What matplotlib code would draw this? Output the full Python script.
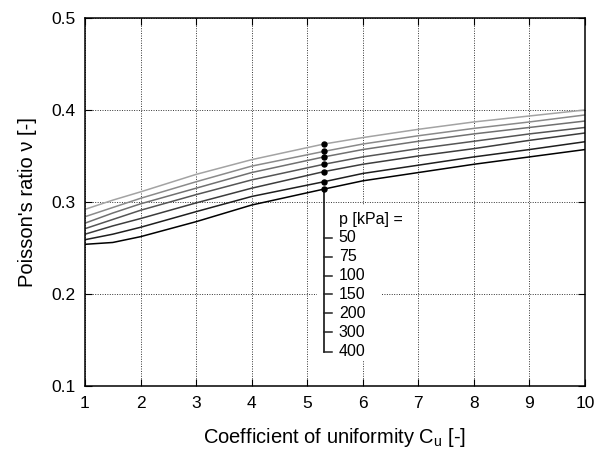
import matplotlib
matplotlib.use('Agg')
from matplotlib import pyplot as plt
from matplotlib.patches import Rectangle
import numpy as np

plt.rcParams['font.family'] = ['Liberation Sans', 'DejaVu Sans']

# coefficient of uniformity
cu = [1, 1.5, 2, 3, 4, 5.3, 6, 7, 8, 9, 10]

pressures = ['50', '75', '100', '150', '200', '300', '400']

nu_50 = [0.292, 0.302, 0.311, 0.330, 0.346, 0.363, 0.370, 0.379, 0.387, 0.3935, 0.400]
nu_75 = [0.284, 0.294, 0.304, 0.322, 0.339, 0.355, 0.363, 0.372, 0.380, 0.387, 0.3946]
nu_100 = [0.277, 0.288, 0.298, 0.315, 0.332, 0.349, 0.357, 0.366, 0.374, 0.381, 0.388]
nu_150 = [0.271, 0.281, 0.291, 0.308, 0.324, 0.341, 0.349, 0.358, 0.366, 0.374, 0.381]
nu_200 = [0.265, 0.274, 0.282, 0.299, 0.315, 0.333, 0.341, 0.350, 0.358, 0.367, 0.375]
nu_300 = [0.259, 0.265, 0.2725, 0.2895, 0.306, 0.322, 0.331, 0.340, 0.349, 0.357, 0.3655]
nu_400 = [0.254, 0.256, 0.2623, 0.2786, 0.2967, 0.314, 0.323, 0.332, 0.341, 0.349, 0.357]

# marked points where the key is attached
key_cu = 5.3
key_nu = [0.363, 0.355, 0.349, 0.341, 0.333, 0.322, 0.314]

curves = [nu_50, nu_75, nu_100, nu_150, nu_200, nu_300, nu_400]
colours = ['#a3a3a3', '#8a8a8a', '#707070', '#555555', '#3c3c3c', '#1e1e1e', '#000000']

fig = plt.figure(figsize=(5.96, 4.53), dpi=100)
ax = fig.add_axes([0.1426, 0.1479, 0.8389, 0.8124])
ax.set_axisbelow(True)

for nu, c in zip(curves, colours):
    ax.plot(cu, nu, color=c, lw=1.1)

# white box behind the key hides the grid
ax.add_patch(Rectangle((5.17, 0.128), 1.18, 0.169, facecolor='white', edgecolor='none', zorder=1))

# key: vertical stem with ticks and labels
tick_y = np.array([0.2612, 0.2405, 0.2199, 0.1997, 0.1790, 0.1584, 0.1373])
ax.plot([key_cu, key_cu], [key_nu[-1], tick_y[-1]], color='black', lw=1.1)
for ty, label in zip(tick_y, pressures):
    ax.plot([key_cu, key_cu + 0.14], [ty, ty], color='#222222', lw=1.1)
    ax.text(key_cu + 0.27, ty, label, va='center', ha='left', fontsize=11.5)
ax.text(key_cu + 0.27, 0.2815, 'p [kPa] =', va='center', ha='left', fontsize=11.5)
ax.plot([key_cu] * len(key_nu), key_nu, 'o', color='black', ms=3.6)

ax.set_xlim(1, 10)
ax.set_ylim(0.1, 0.5)
ax.set_xticks(range(1, 11))
ax.set_yticks([0.1, 0.2, 0.3, 0.4, 0.5])
ax.set_yticklabels(['0.1', '0.2', '0.3', '0.4', '0.5'])
ax.grid(True, color='#333333', linestyle=(0, (1, 1.5)), lw=0.7)
ax.tick_params(direction='in', top=True, right=True, length=5, labelsize=12.5, pad=7)
ax.set_xlabel('Coefficient of uniformity C$_\\mathregular{u}$ [-]', fontsize=14.5, labelpad=11)
ax.set_ylabel("Poisson's ratio ν [-]", fontsize=14.5, labelpad=10)
for s in ax.spines.values():
    s.set_linewidth(1.1)

fig.savefig('out.png', dpi=100)
